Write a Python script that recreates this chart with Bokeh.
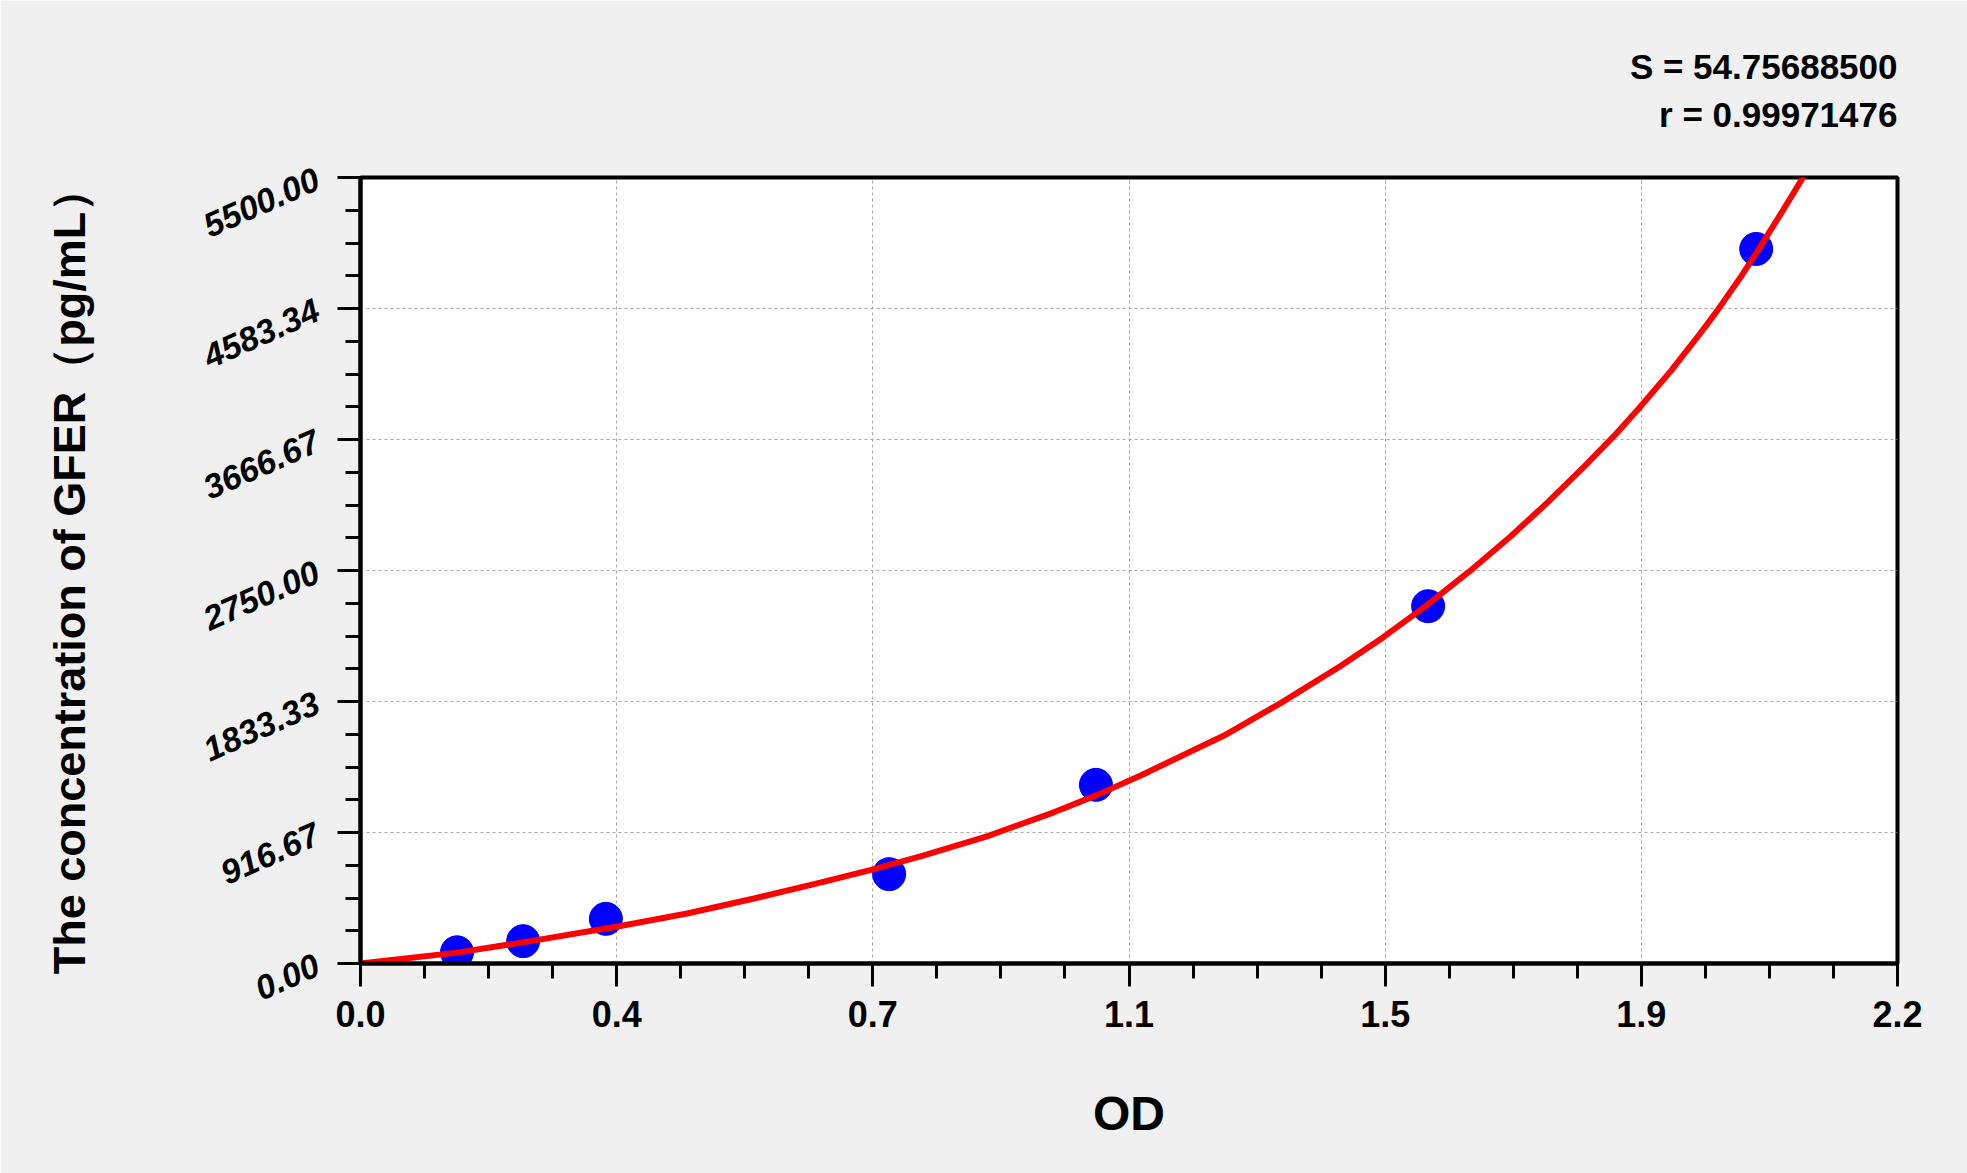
import math
import numpy as np
from bokeh.plotting import figure
from bokeh.models import FixedTicker, Range1d
from bokeh.embed import file_html
from bokeh.resources import INLINE

# ---- data ----
od = [0.140, 0.236, 0.356, 0.767, 1.067, 1.549, 2.025]
conc = [78.13, 156.25, 312.5, 625.0, 1250.0, 2500.0, 5000.0]

curve_od = [0.0, 0.140, 0.236, 0.377, 0.474, 0.571, 0.667, 0.741, 0.8125, 0.909,
            1.006, 1.069, 1.132, 1.253, 1.335, 1.422, 1.483, 1.543, 1.608, 1.669,
            1.722, 1.775, 1.8185, 1.854, 1.901, 1.944, 1.968, 2.002, 2.027, 2.060, 2.099]
curve_conc = [0, 76, 148, 262, 350, 455, 566, 655, 750, 890,
              1058, 1180, 1316, 1595, 1822, 2082, 2280, 2492, 2740, 2990,
              3225, 3475, 3690, 3880, 4145, 4410, 4565, 4800, 4985, 5240, 5549]

x_tick_labels = ["0.0", "0.4", "0.7", "1.1", "1.5", "1.9", "2.2"]
y_tick_labels = ["0.00", "916.67", "1833.33", "2750.00", "3666.67", "4583.34", "5500.00"]
x_max = 2.23
y_max = 5500.0

x_title = "OD"
y_title = "The concentration of GFER（pg/mL）"
stat_s = "S = 54.75688500"
stat_r = "r = 0.99971476"

FONT = "Liberation Sans"

p = figure(width=1967, height=1173, output_backend="svg", toolbar_location=None,
           x_range=Range1d(0, x_max), y_range=Range1d(0, y_max))
p.min_border_left = 360
p.min_border_right = 70
p.min_border_top = 177
p.min_border_bottom = 210
p.border_fill_color = "#f0f0f0"
p.background_fill_color = "white"
p.outline_line_color = "black"
p.outline_line_width = 4

n = len(x_tick_labels)
xt = list(np.linspace(0, x_max, n))
yt = list(np.linspace(0, y_max, n))
xminor = list(np.linspace(0, x_max, (n - 1) * 4 + 1))
yminor = list(np.linspace(0, y_max, (n - 1) * 4 + 1))

p.xaxis.ticker = FixedTicker(ticks=xt, minor_ticks=xminor)
p.yaxis.ticker = FixedTicker(ticks=yt, minor_ticks=yminor)
p.xaxis.major_label_overrides = {float(t): s for t, s in zip(xt, x_tick_labels)}
p.yaxis.major_label_overrides = {float(t): s for t, s in zip(yt, y_tick_labels)}

for ax in (p.xaxis[0], p.yaxis[0]):
    ax.axis_line_color = "black"
    ax.axis_line_width = 4
    ax.major_tick_line_color = "black"
    ax.major_tick_line_width = 3
    ax.minor_tick_line_color = "black"
    ax.minor_tick_line_width = 3
    ax.major_tick_in = 0
    ax.major_tick_out = 23
    ax.minor_tick_in = 0
    ax.minor_tick_out = 15
    ax.major_label_text_font = FONT
    ax.major_label_text_color = "black"
    ax.axis_label_text_font = FONT
    ax.axis_label_text_font_style = "bold"
    ax.axis_label_text_color = "black"

p.xaxis.major_label_text_font_size = "36px"
p.xaxis.major_label_text_font_style = "bold"
p.xaxis.major_label_standoff = 14
p.xaxis.axis_label = x_title
p.xaxis.axis_label_text_font_size = "48px"
p.xaxis.axis_label_standoff = 57

p.yaxis.major_label_text_font_size = "34px"
p.yaxis.major_label_text_font_style = "bold italic"
p.yaxis.major_label_orientation = math.radians(24)
p.yaxis.major_label_standoff = 20
p.yaxis.axis_label = y_title
p.yaxis.axis_label_text_font_size = "45px"
p.yaxis.axis_label_standoff = 98

for g in (p.xgrid[0], p.ygrid[0]):
    g.grid_line_color = "#a8a8a8"
    g.grid_line_dash = "3 3"
    g.grid_line_width = 1

# two stat lines above the frame; the shorter line is padded so both end flush right
p.title.text = stat_s + "\n" + "\u00a0" * 3 + stat_r
p.title.align = "right"
p.title.text_font = FONT
p.title.text_font_size = "35px"
p.title.text_font_style = "bold"
p.title.text_color = "black"
p.title.text_line_height = 1.24
p.title.standoff = 86
p.title.offset = 0

p.scatter(od, conc, marker="circle", size=33, fill_color="#0000ff", line_color="#0000ff")
p.line(curve_od, curve_conc, line_color="#ff0000", line_width=6)

open("out.html", "w").write(file_html(p, INLINE))
